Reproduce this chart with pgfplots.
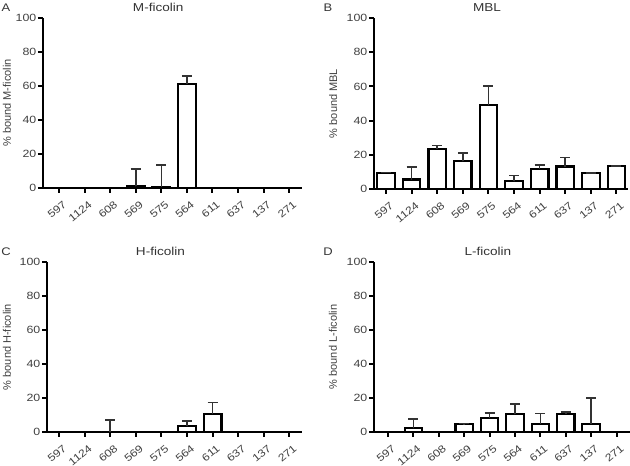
\documentclass[border=0pt]{standalone}
\usepackage{fontspec}
\setmainfont{Liberation Sans}
\newfontfamily\wide[FakeStretch=1.18]{Liberation Sans}
\usepackage{pgfplots}
\pgfplotsset{compat=1.18}
\pgfplotstableread{
x y e
3 1.0 10.2
4 0.8 12.9
5 61.4 4.5
}\tA
\pgfplotstableread{
x y e
0 9.4 0.3
1 5.5 7.2
2 23.4 2.1
3 16.2 4.7
4 49.1 11.3
5 4.5 3.5
6 11.9 2.3
7 13.1 5.4
8 9.2 0
9 13.3 0
}\tB
\pgfplotstableread{
x y e
2 0 7.1
5 3.3 3.0
6 10.6 6.7
}\tC
\pgfplotstableread{
x y e
1 2.2 5.5
3 4.5 0.4
4 8.3 2.9
5 10.4 5.9
6 4.9 5.9
7 10.8 0.8
8 4.7 15.2
}\tD
\pgfplotsset{
 panel/.style={
   scale only axis,
   height=170pt,
   axis lines=left,
   axis line style={-, line width=2.2pt, black},
   ymin=0, ymax=100,
   ytick={0,20,...,100},
   xtick={0,...,9},
   xticklabels={597,1124,608,569,575,564,611,637,137,271},
   /pgf/number format/assume math mode=true,
   tick align=outside,
   major tick length=5pt,
   tick style={line width=2pt, black},
   xticklabel style={font=\wide\fontsize{10.4}{12}\selectfont, text=black!75, inner sep=1pt, anchor=north east, xshift=3.5pt, yshift=-5.5pt, rotate=40},
   yticklabel style={font=\wide\fontsize{10.5}{12}\selectfont, text=black!75, inner sep=1.5pt},
   ylabel style={font=\fontsize{11}{13}\selectfont, text=black!75, anchor=center},
   title style={font=\wide\fontsize{11.5}{13}\selectfont, text=black!80, at={(axis description cs:0.445,1)}, anchor=center, yshift=4.5pt},
   clip=false,
   cycle list={{fill=white, draw=black, line width=2.2pt}},
 },
 bars/.style={ybar, bar width=17.5pt, bar shift=0pt, fill=white, draw=black, line width=2.2pt,
   error bars/y dir=plus, error bars/y explicit,
   error bars/error mark=-,
   error bars/error bar style={line width=1.6pt, draw=black!80, solid},
   error bars/error mark options={rotate=90, line width=1.6pt, draw=black!80, mark size=5pt},
 }
}
\begin{document}
\begin{tikzpicture}
\useasboundingbox (0,0) rectangle (630pt,466pt);
\begin{axis}[panel, at={(43pt,278pt)}, anchor=south west, width=259pt,
  xmin=-0.625, xmax=9.5, title={M-ficolin}, ylabel={\% bound M-ficolin},
  ylabel style={at={(axis description cs:-0.139,0.5)}}]
\addplot[bars] table[x=x,y=y,y error=e]{\tA};
\end{axis}
\begin{axis}[panel, at={(374pt,277pt)}, anchor=south west, width=254pt, height=171pt,
  xmin=-0.47, xmax=9.45, title={MBL}, ylabel={\% bound MBL},
  ylabel style={at={(axis description cs:-0.161,0.5)}}]
\addplot[bars] table[x=x,y=y,y error=e]{\tB};
\end{axis}
\begin{axis}[panel, at={(47pt,34pt)}, anchor=south west, width=255pt,
  xmin=-0.47, xmax=9.49, title={H-ficolin}, ylabel={\% bound H-ficolin},
  ylabel style={at={(axis description cs:-0.157,0.5)}}]
\addplot[bars] table[x=x,y=y,y error=e]{\tC};
\end{axis}
\begin{axis}[panel, at={(374pt,34pt)}, anchor=south west, width=256pt,
  xmin=-0.55, xmax=9.53, title={L-ficolin}, ylabel={\% bound L-ficolin},
  ylabel style={at={(axis description cs:-0.16,0.5)}}]
\addplot[bars] table[x=x,y=y,y error=e]{\tD};
\end{axis}
\begin{scope}[every node/.style={font=\wide\fontsize{11}{13}\selectfont, text=black!80}]
\node at (6pt,458pt) {A};
\node at (328pt,458pt) {B};
\node at (6pt,214pt) {C};
\node at (328pt,214pt) {D};
\end{scope}
\end{tikzpicture}
\end{document}
